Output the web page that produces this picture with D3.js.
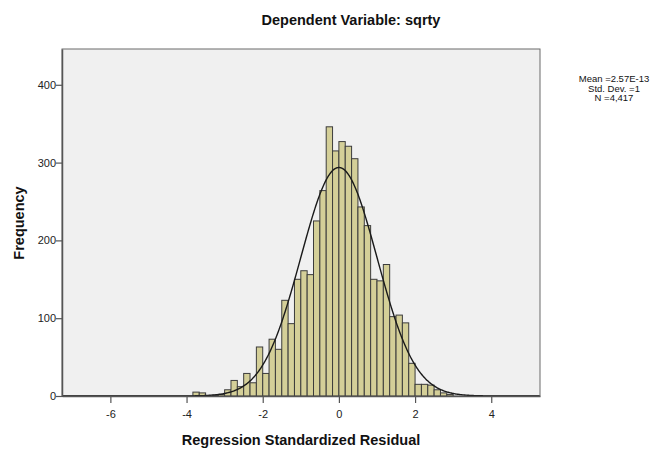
<!DOCTYPE html>
<html>
<head>
<meta charset="utf-8">
<script src="https://cdn.jsdelivr.net/npm/d3@7"></script>
<style>
  body { margin: 0; background: #fff; }
  text { font-family: "Liberation Sans", Arial, sans-serif; }
</style>
</head>
<body>
<div id="chart"></div>
<script>
// bins are 1/6 wide, indexed by k: [k/6, (k+1)/6]
var binStart = [-23,-22,-21,-20,-19,-18,-17,-16,-15,-14,-13,-12,-11,-10,-9,-8,-7,-6,-5,-4,-3,-2,-1,
                0,1,2,3,4,5,6,7,8,9,10,11,12,13,14,15,16,17];
var counts = [5,4,0,1,2,8,20,12,29,17,63,29,73,60,123,93,150,161,156,225,264,346,315,
              327,321,305,243,219,150,148,169,102,104,94,42,15,15,14,8,4,2];
var binWidth = 1 / 6;

var xTicks = [-6, -4, -2, 0, 2, 4];
var yTicks = [0, 100, 200, 300, 400];

var statMean = 2.57e-13, statSd = 1, statN = 4417;
var legendLines = ["Mean =2.57E-13", "Std. Dev. =1", "N =4,417"];

var W = 672, H = 455;
var svg = d3.select("#chart").append("svg")
	.attr("width", W)
	.attr("height", H);

var x = d3.scaleLinear().domain([-7.27, 5.28]).range([62, 540]);
var y = d3.scaleLinear().domain([0, 446]).range([396, 49]);

// plot background
svg.append("rect")
	.attr("x", 62).attr("y", 49)
	.attr("width", 478).attr("height", 347)
	.attr("fill", "#f0f0f0")
	.attr("stroke", "#6b6b6b")
	.attr("stroke-width", 1);

var bins = binStart.map(function(k, i) { return { x0: k * binWidth, x1: (k + 1) * binWidth, n: counts[i] }; });

svg.append("g").selectAll("rect")
	.data(bins.filter(function(d) { return d.n > 0; }))
	.enter()
	.append("rect")
	.attr("x", function(d) { return x(d.x0); })
	.attr("y", function(d) { return y(d.n); })
	.attr("width", function(d) { return x(d.x1) - x(d.x0); })
	.attr("height", function(d) { return y(0) - y(d.n); })
	.attr("fill", "#d4cf98")
	.attr("stroke", "#3c3c3c")
	.attr("stroke-width", 1);

// fitted normal curve from the legend statistics
var curvePts = d3.range(-7.27, 5.281, 0.02).map(function(v) {
	var z = (v - statMean) / statSd;
	return [v, statN * binWidth * Math.exp(-z * z / 2) / (statSd * Math.sqrt(2 * Math.PI))];
});
svg.append("path")
	.datum(curvePts)
	.attr("fill", "none")
	.attr("stroke", "#1a1a1a")
	.attr("stroke-width", 1.4)
	.attr("d", d3.line().x(function(d) { return x(d[0]); }).y(function(d) { return y(d[1]); }));

// axes
var xAxis = svg.append("g")
	.attr("transform", "translate(0,396)")
	.call(d3.axisBottom(x).tickValues(xTicks).tickSize(7).tickSizeOuter(0).tickFormat(function(d) { return String(d); }));
var yAxis = svg.append("g")
	.attr("transform", "translate(62,0)")
	.call(d3.axisLeft(y).tickValues(yTicks).tickSize(6).tickSizeOuter(0).tickFormat(function(d) { return String(d); }));

[xAxis, yAxis].forEach(function(a) {
	a.select(".domain").attr("stroke", "#555").attr("stroke-width", 1.5);
	a.selectAll(".tick line").attr("stroke", "#555").attr("stroke-width", 1.2);
	a.selectAll(".tick text")
		.attr("font-size", "11px")
		.attr("font-family", "Liberation Sans, Arial, sans-serif")
		.attr("fill", "#222");
});
xAxis.selectAll(".tick text").attr("dy", "1.1em");
yAxis.selectAll(".tick text").attr("x", -6);

// titles
svg.append("text")
	.attr("x", 351).attr("y", 25)
	.attr("text-anchor", "middle")
	.attr("font-size", "14.5px")
	.attr("font-weight", "bold")
	.attr("fill", "#111")
	.text("Dependent Variable: sqrty");

svg.append("text")
	.attr("x", 301).attr("y", 445)
	.attr("text-anchor", "middle")
	.attr("font-size", "14.5px")
	.attr("font-weight", "bold")
	.attr("fill", "#111")
	.text("Regression Standardized Residual");

svg.append("text")
	.attr("transform", "translate(24,223) rotate(-90)")
	.attr("text-anchor", "middle")
	.attr("font-size", "14.5px")
	.attr("font-weight", "bold")
	.attr("fill", "#111")
	.text("Frequency");

// legend statistics
svg.append("g").selectAll("text")
	.data(legendLines)
	.enter()
	.append("text")
	.attr("x", 614)
	.attr("y", function(d, i) { return 82 + i * 9.5; })
	.attr("text-anchor", "middle")
	.attr("font-size", "9.5px")
	.attr("fill", "#111")
	.text(function(d) { return d; });
</script>
</body>
</html>
